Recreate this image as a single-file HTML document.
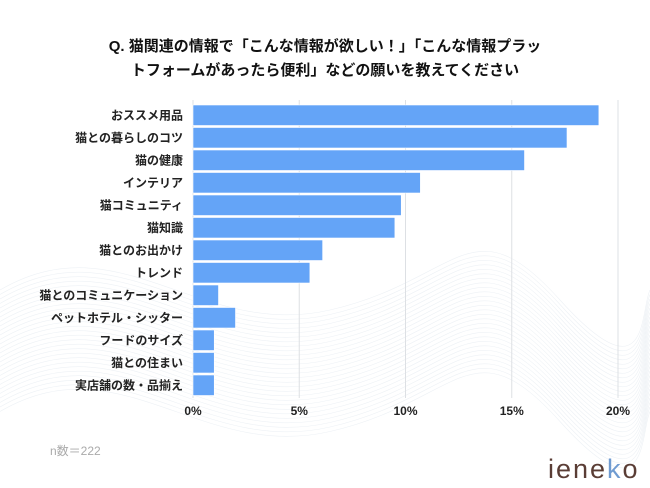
<!DOCTYPE html>
<html><head><meta charset="utf-8"><style>
html,body{margin:0;width:650px;height:488px;background:#fff;overflow:hidden;font-family:"Liberation Sans","Noto Sans CJK JP",sans-serif}
svg{display:block;overflow:hidden}
</style></head><body>
<svg width="650" height="488" id="c" font-family="Liberation Sans, Noto Sans CJK JP, sans-serif">
<g id="bg"></g>
<text x="325" y="51" text-anchor="middle" font-size="15" font-weight="bold" fill="#111">Q. 猫関連の情報で「こんな情報が欲しい！」「こんな情報プラッ</text>
<text x="325" y="75" text-anchor="middle" font-size="15" font-weight="bold" fill="#111">トフォームがあったら便利」などの願いを教えてください</text>
<g id="grid"></g><g id="bars"></g><g id="labels"></g><g id="ticks"></g>
<text x="50" y="455" font-size="12" fill="#aaa">n数＝222</text>
<text x="548" y="478" font-size="27" fill="#5a3d35" letter-spacing="2">iene<tspan fill="#6f9bd1">k</tspan>o</text>
</svg>
<script>
const categories=["おススメ用品","猫との暮らしのコツ","猫の健康","インテリア","猫コミュニティ","猫知識","猫とのお出かけ","トレンド","猫とのコミュニケーション","ペットホテル・シッター","フードのサイズ","猫との住まい","実店舗の数・品揃え"];
const values=[19.1,17.6,15.6,10.7,9.8,9.5,6.1,5.5,1.2,2.0,1.0,1.0,1.0];
const tickValues=[0,5,10,15,20];
const tickLabels=["0%","5%","10%","15%","20%"];
const NS="http://www.w3.org/2000/svg";
const x0=193,x1=618,barTop=105,pitch=22.5,bh=20.5;
const xs=v=>x0+(x1-x0)*v/20;
function mk(p,t,a){const e=document.createElementNS(NS,t);for(const k in a)e.setAttribute(k,a[k]);document.getElementById(p).appendChild(e);return e;}
const bg=document.getElementById('bg');
for(let i=0;i<28;i++){const p=document.createElementNS(NS,'path');
const y=290+i*4.5;
p.setAttribute('d',`M0 ${y} C120 ${y-70} 200 ${y+50} 330 ${y+20} S470 ${y-90} 560 ${y+10} S640 ${y+20} 650 ${y}`);
p.setAttribute('fill','none');p.setAttribute('stroke','#edf1f5');p.setAttribute('stroke-width','0.6');


bg.appendChild(p);}
tickValues.forEach((t,i)=>{
const l=mk('grid','line',{x1:xs(t),x2:xs(t),y1:100,y2:398,stroke:'#dde0e4','stroke-width':1});


const tx=mk('ticks','text',{x:xs(t),y:415,'text-anchor':'middle','font-size':12,'font-weight':'bold',fill:'#222'});
tx.textContent=tickLabels[i];


});
categories.forEach((c,i)=>{
const y=barTop+i*pitch;
const r=mk('bars','rect',{x:x0,y:y,width:xs(values[i])-x0,height:bh,fill:'#64a4f7',stroke:'#fff','stroke-width':0.6});


const t=mk('labels','text',{x:183,y:y+bh/2+4,'text-anchor':'end','font-size':12,'font-weight':'bold',fill:'#222'});
t.textContent=c;


});
</script>
</body></html>
